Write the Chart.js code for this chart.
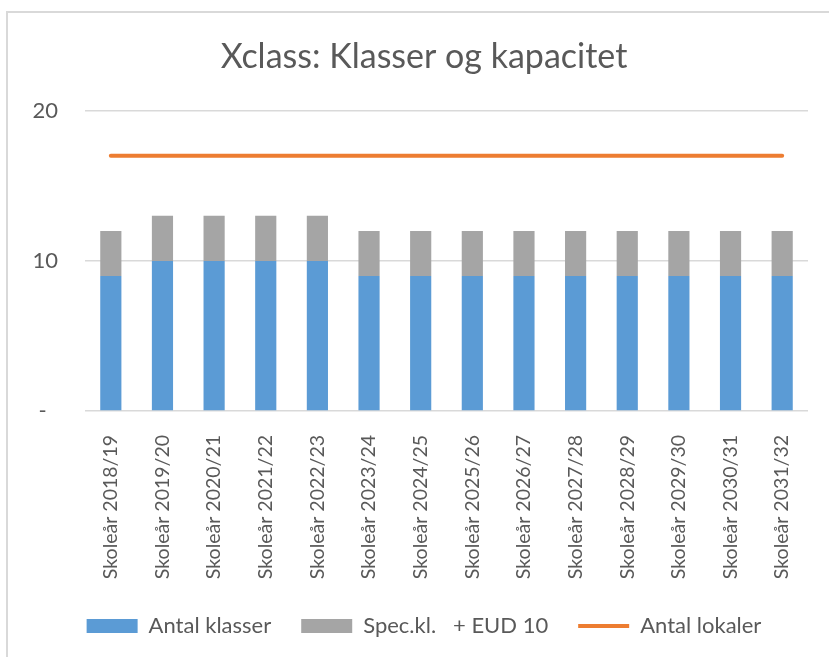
<!DOCTYPE html>
<html>
<head>
<meta charset="utf-8">
<script src="https://cdn.jsdelivr.net/npm/chart.js@4/dist/chart.umd.min.js"></script>
<style>
  html, body { margin: 0; padding: 0; background: #fff; overflow: hidden; }
  #frame {
    position: absolute; left: 6px; top: 11px; width: 900px; height: 700px;
    border-left: 2px solid #d9d9d9; border-top: 2px solid #d9d9d9;
  }
  #chart { position: absolute; left: 0; top: 0; }
</style>
</head>
<body>
<div id="frame"></div>
<canvas id="chart" width="848" height="657"></canvas>
<script>
// ================= DATA =================
const schoolYears = [
  "Skoleår 2018/19","Skoleår 2019/20","Skoleår 2020/21","Skoleår 2021/22",
  "Skoleår 2022/23","Skoleår 2023/24","Skoleår 2024/25","Skoleår 2025/26",
  "Skoleår 2026/27","Skoleår 2027/28","Skoleår 2028/29","Skoleår 2029/30",
  "Skoleår 2030/31","Skoleår 2031/32"
];
const antalKlasser = [9,10,10,10,10,9,9,9,9,9,9,9,9,9];
const specKlasser  = [3,3,3,3,3,3,3,3,3,3,3,3,3,3];
const antalLokaler = [17,17,17,17,17,17,17,17,17,17,17,17,17,17];
const yTicks = [0,10,20];

const textColor = "#595959";
const fontFamily = "Lato, 'Open Sans', sans-serif";
const legendOrder = ["Antal klasser", "Spec.kl.   + EUD 10", "Antal lokaler"];

// ================= CHART =================
new Chart(document.getElementById("chart"), {
  data: {
    labels: schoolYears,
    datasets: [
      {
        type: "line",
        label: "Antal lokaler",
        data: antalLokaler,
        borderColor: "#ED7D31",
        backgroundColor: "#ED7D31",
        borderWidth: 4,
        borderCapStyle: "round",
        pointRadius: 0,
        order: 0
      },
      {
        type: "bar",
        label: "Antal klasser",
        data: antalKlasser,
        backgroundColor: "#5B9BD5",
        barPercentage: 0.41,
        categoryPercentage: 1,
        order: 1
      },
      {
        type: "bar",
        label: "Spec.kl.   + EUD 10",
        data: specKlasser,
        backgroundColor: "#A5A5A5",
        barPercentage: 0.41,
        categoryPercentage: 1,
        order: 2
      }
    ]
  },
  options: {
    responsive: false,
    animation: false,
    layout: { padding: { top: 0, bottom: 10, left: 0, right: 0 } },
    plugins: {
      title: {
        display: true,
        text: "Xclass: Klasser og kapacitet",
        color: textColor,
        font: { family: fontFamily, size: 34, weight: "normal" },
        padding: { top: 37, bottom: 33 }
      },
      legend: {
        position: "bottom",
        labels: {
          color: textColor,
          font: { family: fontFamily, size: 22 },
          boxWidth: 51,
          boxHeight: 14,
          padding: 30,
          usePointStyle: true,
          pointStyleWidth: 51,
          sort: (a, b) => legendOrder.indexOf(a.text) - legendOrder.indexOf(b.text),
          generateLabels(chart) {
            const items = Chart.defaults.plugins.legend.labels.generateLabels(chart);
            items.forEach(it => {
              it.pointStyle = it.text === "Antal lokaler" ? "line" : "rect";
            });
            return items;
          }
        }
      },
      tooltip: { enabled: false }
    },
    scales: {
      x: {
        stacked: true,
        grid: { display: false },
        border: { display: false },
        ticks: {
          color: textColor,
          font: { family: fontFamily, size: 19.5 },
          minRotation: 90,
          maxRotation: 90,
          autoSkip: false,
          padding: 16
        },
        afterFit(scale) { scale.height = 174; }
      },
      y: {
        stacked: true,
        min: yTicks[0],
        max: yTicks[yTicks.length - 1],
        grid: { color: "#d9d9d9", lineWidth: 1.5, drawTicks: false },
        border: { display: false },
        afterBuildTicks(scale) { scale.ticks = yTicks.map(v => ({ value: v })); },
        ticks: {
          color: textColor,
          font: { family: fontFamily, size: 22 },
          padding: 27,
          callback: v => v === 0 ? "-\u00a0\u00a0" : v
        },
        afterFit(scale) { scale.width = 85; }
      },
      // empty right-hand margin so the plot ends where the reference does
      yRight: {
        type: "linear",
        position: "right",
        grid: { display: false },
        border: { display: false },
        ticks: { display: false },
        afterFit(scale) { scale.width = 40; }
      }
    }
  }
});
</script>
</body>
</html>
